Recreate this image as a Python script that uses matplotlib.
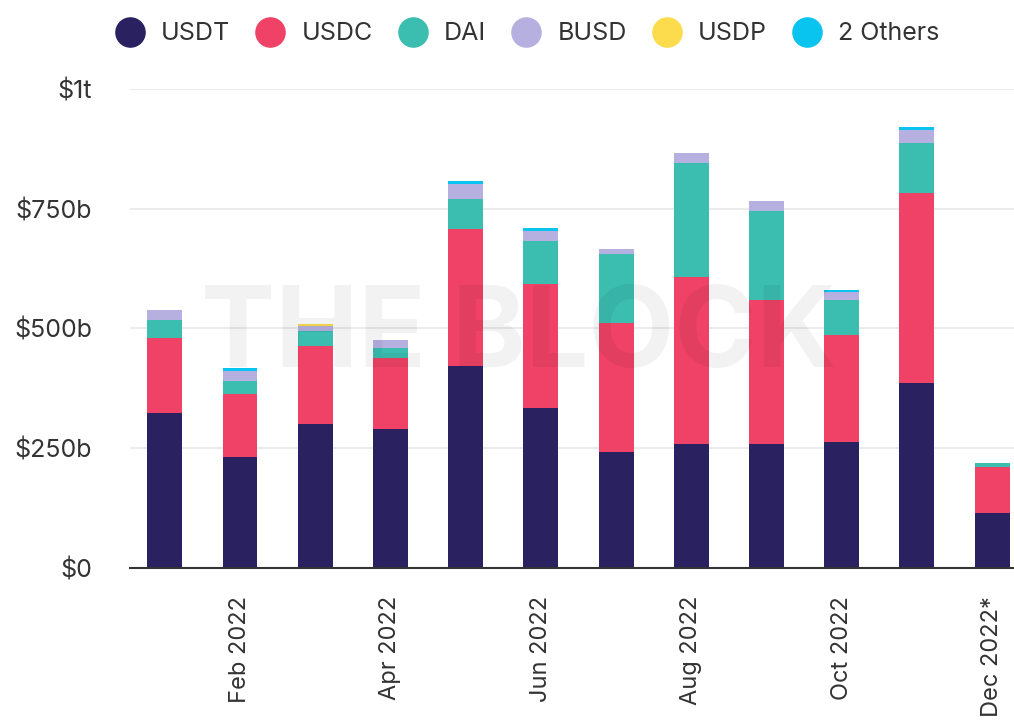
import numpy as np
import matplotlib
matplotlib.use('Agg')
import matplotlib.pyplot as plt
from matplotlib.lines import Line2D

# monthly stablecoin volume, billions of USD
months = ['Jan 2022', 'Feb 2022', 'Mar 2022', 'Apr 2022', 'May 2022', 'Jun 2022',
          'Jul 2022', 'Aug 2022', 'Sep 2022', 'Oct 2022', 'Nov 2022', 'Dec 2022*']
usdt = [323, 232, 300, 290, 422, 333, 242, 259, 259, 263, 386, 115]
usdc = [157, 132, 164, 148, 285, 259, 270, 349, 301, 223, 397, 95]
dai = [37, 26, 31, 21, 63, 90, 143, 237, 185, 74, 105, 10]
busd = [21, 21, 10, 16, 32, 21, 10, 21, 21, 16, 26, 0]
usdp = [0, 0, 5, 0, 0, 0, 0, 0, 0, 0, 0, 0]
others = [0, 6, 0, 0, 6, 6, 0, 0, 0, 5, 6, 0]

series_names = ['USDT', 'USDC', 'DAI', 'BUSD', 'USDP', '2 Others']
colors = ['#2a2160', '#ef4266', '#3bbdb0', '#b6b0e0', '#fcdc4d', '#08c4ef']

plt.rcParams['font.family'] = ['Inter', 'DejaVu Sans']

fig = plt.figure(figsize=(10.14, 7.23), dpi=100)
ax = fig.add_axes([0.128, 0.2144, 0.872, 0.6625])

x = np.arange(len(months))
bottom = np.zeros(len(months))
for vals, name, col in zip([usdt, usdc, dai, busd, usdp, others], series_names, colors):
    ax.bar(x, vals, width=0.465, bottom=bottom, color=col, label=name, zorder=3)
    bottom += np.array(vals)

ax.set_ylim(0, 1000)
ax.set_xlim(-0.465, 11.29)
ax.set_yticks([0, 250, 500, 750, 1000])
ax.set_yticklabels(['$0', '$250b', '$500b', '$750b', '$1t'], fontsize=18, color='#333333')
ax.set_xticks(x[1::2])
ax.set_xticklabels(months[1::2], rotation=90, fontsize=17, color='#333333')
ax.tick_params(axis='both', length=0)
ax.tick_params(axis='y', pad=27)
ax.tick_params(axis='x', pad=20)
ax.grid(axis='y', color='#ebebeb', linewidth=1.5, zorder=0)
for s in ['top', 'right', 'left']:
    ax.spines[s].set_visible(False)
ax.spines['bottom'].set_color('#333333')
ax.spines['bottom'].set_linewidth(1.5)
ax.spines['bottom'].set_zorder(4)

# watermark
ax.text(4.7, 482, 'THE BLOCK', fontsize=80, fontweight='bold', color='black',
        alpha=0.05, ha='center', va='center', zorder=10)

handles = [Line2D([0], [0], marker='o', linestyle='', markersize=21,
                  markerfacecolor=c, markeredgecolor=c) for c in colors]
fig.legend(handles, series_names, loc='upper center', bbox_to_anchor=(0.515, 1.0),
           ncol=6, frameon=False, fontsize=18, handletextpad=0.25, columnspacing=0.6,
           labelcolor='#333333')

fig.savefig('out.png', dpi=100)
